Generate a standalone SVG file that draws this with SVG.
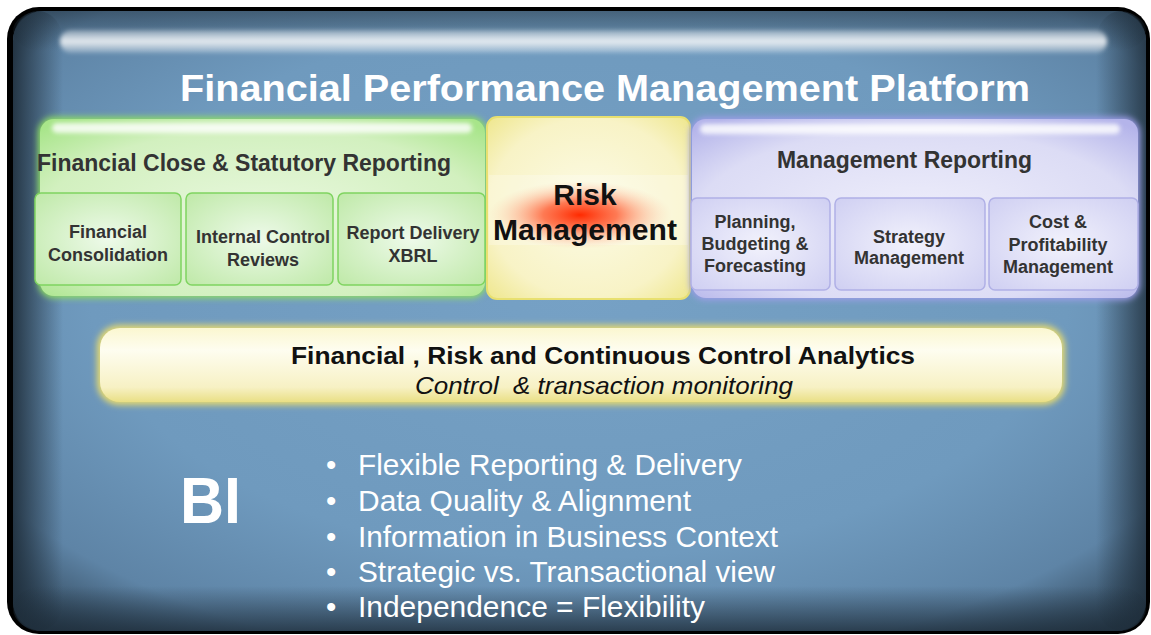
<svg xmlns="http://www.w3.org/2000/svg" width="1151" height="635" viewBox="0 0 1151 635">
<defs>
<style>
.t{font-family:"Liberation Sans",Arial,sans-serif;font-weight:bold;}
.sub{font-family:"Liberation Sans",Arial,sans-serif;font-weight:bold;font-size:18px;fill:#333;text-anchor:middle;}
.bul{font-family:"Liberation Sans",Arial,sans-serif;font-size:29.5px;fill:#fff;}
</style>
<radialGradient id="bgG" cx="0.5" cy="0.45" r="0.72">
<stop offset="0" stop-color="#76a1c5"/>
<stop offset="0.6" stop-color="#6f9abe"/>
<stop offset="0.85" stop-color="#5e84a6"/>
<stop offset="1" stop-color="#2d4254"/>
</radialGradient>
<linearGradient id="edgeL" x1="0" y1="0" x2="1" y2="0">
<stop offset="0" stop-color="#1e2d3a" stop-opacity="0.9"/>
<stop offset="1" stop-color="#1e2d3a" stop-opacity="0"/>
</linearGradient>
<linearGradient id="edgeR" x1="1" y1="0" x2="0" y2="0">
<stop offset="0" stop-color="#1e2d3a" stop-opacity="0.8"/>
<stop offset="1" stop-color="#1e2d3a" stop-opacity="0"/>
</linearGradient>
<linearGradient id="edgeB" x1="0" y1="1" x2="0" y2="0">
<stop offset="0" stop-color="#1e2d3a" stop-opacity="0.8"/>
<stop offset="1" stop-color="#1e2d3a" stop-opacity="0"/>
</linearGradient>
<linearGradient id="edgeT" x1="0" y1="0" x2="0" y2="1">
<stop offset="0" stop-color="#1e2d3a" stop-opacity="0.5"/>
<stop offset="1" stop-color="#1e2d3a" stop-opacity="0"/>
</linearGradient>
<linearGradient id="hl" x1="0" y1="0" x2="0" y2="1">
<stop offset="0" stop-color="#ffffff" stop-opacity="0.3"/>
<stop offset="0.5" stop-color="#ffffff" stop-opacity="0.85"/>
<stop offset="1" stop-color="#ffffff" stop-opacity="0.2"/>
</linearGradient>
<radialGradient id="greenF" cx="0.5" cy="0.55" r="0.7">
<stop offset="0" stop-color="#e9f8de"/>
<stop offset="0.7" stop-color="#d2f0bf"/>
<stop offset="1" stop-color="#a8e58a"/>
</radialGradient>
<radialGradient id="greenS" cx="0.5" cy="0.5" r="0.7">
<stop offset="0" stop-color="#eefaea"/>
<stop offset="1" stop-color="#bfe9a8"/>
</radialGradient>
<radialGradient id="blueF" cx="0.5" cy="0.55" r="0.7">
<stop offset="0" stop-color="#eeeefb"/>
<stop offset="0.7" stop-color="#dcdcf5"/>
<stop offset="1" stop-color="#b4b4ea"/>
</radialGradient>
<radialGradient id="blueS" cx="0.5" cy="0.5" r="0.7">
<stop offset="0" stop-color="#f2f2fc"/>
<stop offset="1" stop-color="#cfcff2"/>
</radialGradient>
<radialGradient id="yelF" cx="0.5" cy="0.5" r="0.7">
<stop offset="0" stop-color="#fcfbe6"/>
<stop offset="0.7" stop-color="#f8f3c6"/>
<stop offset="1" stop-color="#efe78e"/>
</radialGradient>
<radialGradient id="red" cx="0.5" cy="0.5" r="0.5">
<stop offset="0" stop-color="#ff2a00"/>
<stop offset="0.4" stop-color="#ff5a30" stop-opacity="0.8"/>
<stop offset="1" stop-color="#ffd0b0" stop-opacity="0"/>
</radialGradient>
<linearGradient id="barF" x1="0" y1="0" x2="0" y2="1">
<stop offset="0" stop-color="#fbf7d0"/>
<stop offset="0.3" stop-color="#fefdf0"/>
<stop offset="0.8" stop-color="#f7f1c4"/>
<stop offset="1" stop-color="#e9df85"/>
</linearGradient>
<filter id="blur3" x="-10%" y="-10%" width="120%" height="120%"><feGaussianBlur stdDeviation="3"/></filter>
<filter id="blur2" x="-10%" y="-50%" width="120%" height="200%"><feGaussianBlur stdDeviation="2"/></filter>
</defs>

<g id="background">
<rect x="7" y="7" width="1143" height="627" rx="32" fill="#000"/>
<rect x="13" y="11" width="1133" height="620" rx="30" fill="url(#bgG)"/>
<rect x="13" y="11" width="50" height="620" rx="30" fill="url(#edgeL)"/>
<rect x="1096" y="11" width="50" height="620" rx="30" fill="url(#edgeR)"/>
<rect x="13" y="586" width="1133" height="45" rx="30" fill="url(#edgeB)"/>
<rect x="13" y="11" width="1133" height="40" rx="30" fill="url(#edgeT)"/>
<rect x="60" y="30" width="1047" height="23" rx="11.5" fill="url(#hl)" filter="url(#blur2)"/>
<text class="t" x="180" y="101" font-size="37" fill="#fff" textLength="850" lengthAdjust="spacingAndGlyphs">Financial Performance Management Platform</text>
</g>

<g id="financial-close">
<rect x="38" y="117" width="449" height="181" rx="16" fill="#8fe060" filter="url(#blur3)"/>
<rect x="40" y="119" width="445" height="177" rx="14" fill="url(#greenF)"/>
<rect x="52" y="123" width="420" height="10" rx="5" fill="#fff" opacity="0.8" filter="url(#blur2)"/>
<text class="t" x="37" y="171" font-size="23" fill="#333" textLength="414" lengthAdjust="spacingAndGlyphs">Financial Close &amp; Statutory Reporting</text>
</g>
<g id="financial-consolidation">
<rect x="35" y="193" width="146" height="92" rx="6" fill="url(#greenS)" stroke="#7fd460" stroke-width="1.5"/>
<text class="sub" x="108" y="238">Financial</text>
<text class="sub" x="108" y="261">Consolidation</text>
</g>
<g id="internal-control">
<rect x="186" y="193" width="147" height="92" rx="6" fill="url(#greenS)" stroke="#7fd460" stroke-width="1.5"/>
<text class="sub" x="263" y="243">Internal Control</text>
<text class="sub" x="263" y="266">Reviews</text>
</g>
<g id="report-delivery">
<rect x="338" y="193" width="147" height="92" rx="6" fill="url(#greenS)" stroke="#7fd460" stroke-width="1.5"/>
<text class="sub" x="413" y="239">Report Delivery</text>
<text class="sub" x="413" y="262">XBRL</text>
</g>

<g id="risk-management">
<rect x="487" y="117" width="203" height="182" rx="10" fill="url(#yelF)" stroke="#e8e070" stroke-width="2"/>
<rect x="489" y="175" width="199" height="70" fill="#fff" opacity="0.25"/>
<ellipse cx="580" cy="215" rx="92" ry="34" fill="url(#red)"/>
<text class="t" x="585" y="205" font-size="30" fill="#111" text-anchor="middle">Risk</text>
<text class="t" x="585" y="240" font-size="30" fill="#111" text-anchor="middle" textLength="184" lengthAdjust="spacingAndGlyphs">Management</text>
</g>

<g id="management-reporting">
<rect x="690" y="117" width="450" height="183" rx="16" fill="#9d9de8" filter="url(#blur3)"/>
<rect x="692" y="119" width="446" height="179" rx="14" fill="url(#blueF)"/>
<rect x="700" y="124" width="420" height="10" rx="5" fill="#fff" opacity="0.8" filter="url(#blur2)"/>
<text class="t" x="777" y="168" font-size="23" fill="#333" textLength="255" lengthAdjust="spacingAndGlyphs">Management Reporting</text>
</g>
<g id="planning">
<rect x="691" y="198" width="139" height="92" rx="6" fill="url(#blueS)" stroke="#b0b0e6" stroke-width="1.5"/>
<text class="sub" x="755" y="228">Planning,</text>
<text class="sub" x="755" y="250">Budgeting &amp;</text>
<text class="sub" x="755" y="272">Forecasting</text>
</g>
<g id="strategy">
<rect x="835" y="198" width="150" height="92" rx="6" fill="url(#blueS)" stroke="#b0b0e6" stroke-width="1.5"/>
<text class="sub" x="909" y="243">Strategy</text>
<text class="sub" x="909" y="264">Management</text>
</g>
<g id="cost-profitability">
<rect x="989" y="198" width="149" height="92" rx="6" fill="url(#blueS)" stroke="#b0b0e6" stroke-width="1.5"/>
<text class="sub" x="1058" y="228">Cost &amp;</text>
<text class="sub" x="1058" y="251">Profitability</text>
<text class="sub" x="1058" y="273">Management</text>
</g>

<g id="analytics">
<rect x="97" y="325" width="968" height="80" rx="22" fill="#e6da70" filter="url(#blur3)"/>
<rect x="100" y="328" width="962" height="74" rx="20" fill="url(#barF)"/>
<text x="291" y="364" font-family="'Liberation Sans',Arial,sans-serif" font-weight="bold" font-size="24" fill="#111" textLength="624" lengthAdjust="spacingAndGlyphs">Financial , Risk and Continuous Control Analytics</text>
<text x="415" y="394" font-family="'Liberation Sans',Arial,sans-serif" font-style="italic" font-size="24" fill="#111" textLength="378" lengthAdjust="spacingAndGlyphs" xml:space="preserve">Control  &amp; transaction monitoring</text>
</g>

<g id="bi">
<text class="t" x="180" y="523" font-size="64" fill="#fff" textLength="61" lengthAdjust="spacingAndGlyphs">BI</text>
<text class="bul" x="326" y="475">•</text><text class="bul" x="358" y="475" textLength="384" lengthAdjust="spacingAndGlyphs">Flexible Reporting &amp; Delivery</text>
<text class="bul" x="326" y="511">•</text><text class="bul" x="358" y="511" textLength="333" lengthAdjust="spacingAndGlyphs">Data Quality &amp; Alignment</text>
<text class="bul" x="326" y="547">•</text><text class="bul" x="358" y="547" textLength="420" lengthAdjust="spacingAndGlyphs">Information in Business Context</text>
<text class="bul" x="326" y="582">•</text><text class="bul" x="358" y="582" textLength="417" lengthAdjust="spacingAndGlyphs">Strategic vs. Transactional view</text>
<text class="bul" x="326" y="617">•</text><text class="bul" x="358" y="617" textLength="347" lengthAdjust="spacingAndGlyphs">Independence = Flexibility</text>
</g>
<g id="connectors"/>
</svg>
